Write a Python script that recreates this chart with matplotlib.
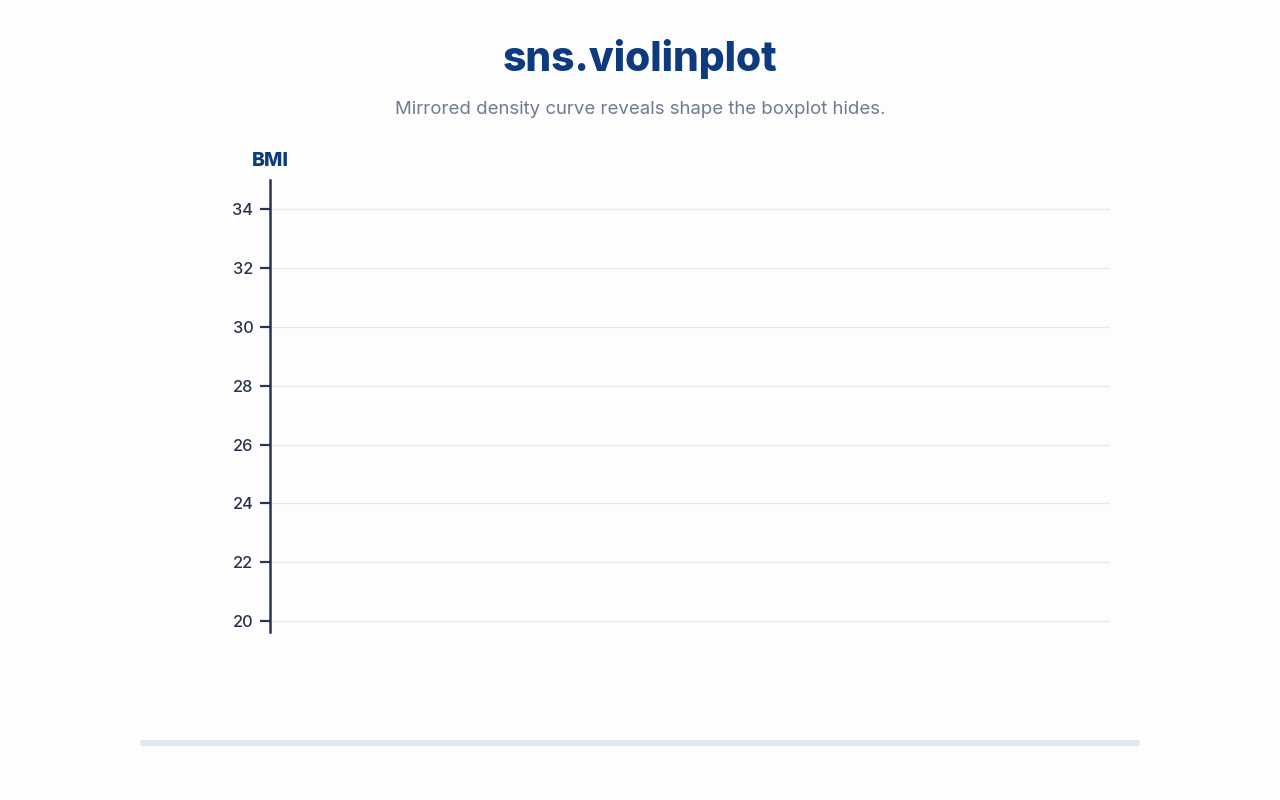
import matplotlib.pyplot as plt
from matplotlib.lines import Line2D

# nothing drawn yet in this frame, only the empty BMI axis
y_ticks = [20, 22, 24, 26, 28, 30, 32, 34]
y_limits = [19.63, 35.0]
title = 'sns.violinplot'
subtitle = 'Mirrored density curve reveals shape the boxplot hides.'
y_label = 'BMI'

navy = '#0d3b7d'
axis_col = '#2a3350'
grid_col = '#e3e8f0'

plt.rcParams['font.family'] = ['Inter', 'DejaVu Sans']

fig = plt.figure(figsize=(12.8, 8), dpi=100)
fig.patch.set_facecolor('#fdfdfd')

ax = fig.add_axes([270/1280, 1 - 632/800, 840/1280, 452/800])
ax.set_facecolor('#fdfdfd')
ax.set_ylim(*y_limits)
ax.set_xlim(0, 1)
ax.set_yticks(y_ticks)
ax.set_xticks([])
for side in ['top', 'right', 'bottom']:
    ax.spines[side].set_visible(False)
ax.spines['left'].set_color(axis_col)
ax.spines['left'].set_linewidth(1.8)
ax.tick_params(axis='y', length=7, width=1.6, color=axis_col, labelcolor=axis_col,
               labelsize=11.8, pad=5)
for lab in ax.get_yticklabels():
    lab.set_fontweight('medium')
ax.yaxis.grid(True, color=grid_col, linewidth=0.9)
ax.set_axisbelow(True)

ax.text(0, 1.022, y_label, transform=ax.transAxes, ha='center', va='bottom',
        fontsize=14, fontweight='heavy', color=navy)

fig.text(0.5, 1 - 59/800, title, ha='center', va='center', fontsize=29.3,
         fontweight='heavy', color=navy)
fig.text(0.5, 1 - 110/800, subtitle, ha='center', va='center', fontsize=13.4,
         color='#6e7b93')

# scrollbar-like strip at the bottom
fig.add_artist(Line2D([143/1280, 1137/1280], [1 - 743/800, 1 - 743/800],
                      transform=fig.transFigure, color='#e2e8f2', linewidth=4.5,
                      solid_capstyle='round'))

fig.savefig('out.png', dpi=100, facecolor=fig.get_facecolor())
